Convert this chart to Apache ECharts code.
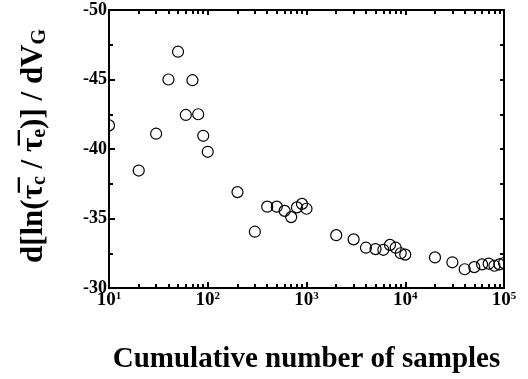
<!DOCTYPE html>
<html>
<head>
<meta charset="utf-8">
<script src="https://cdn.jsdelivr.net/npm/echarts@6/dist/echarts.min.js"></script>
<style>
  html, body { margin: 0; padding: 0; background: #fff; }
  #chart { width: 528px; height: 379px; }
</style>
</head>
<body>
<div id="chart"></div>
<script>
const samples = [10, 20, 30, 40, 50, 60, 70, 80, 90, 100,
  200, 300, 400, 500, 600, 700, 800, 900, 1000,
  2000, 3000, 4000, 5000, 6000, 7000, 8000, 9000, 10000,
  20000, 30000, 40000, 50000, 60000, 70000, 80000, 90000, 100000];
const slope = [-41.7, -38.45, -41.1, -45.0, -47.0, -42.45, -44.95, -42.5, -40.95, -39.8,
  -36.9, -34.05, -35.85, -35.85, -35.55, -35.1, -35.8, -36.05, -35.7,
  -33.8, -33.5, -32.9, -32.8, -32.75, -33.1, -32.9, -32.5, -32.4,
  -32.2, -31.85, -31.35, -31.5, -31.7, -31.75, -31.6, -31.7, -31.8];
const majorTicks = [10, 100, 1000, 10000, 100000];
const minorTicks = [];
[10, 100, 1000, 10000].forEach(d => {
  for (let k = 2; k <= 9; k++) minorTicks.push(d * k);
});

const serif = '"Liberation Serif", "Times New Roman", serif';
const chart = echarts.init(document.getElementById('chart'));

const xBase = {
  type: 'log', logBase: 10, min: 10, max: 100000, z: 10,
  splitLine: { show: false },
  axisLine: { show: true, lineStyle: { color: '#000', width: 2 } }
};
const tickLine = { color: '#000', width: 2 };

const option = {
  animation: false,
  backgroundColor: '#fff',
  grid: { left: 109, right: 24, top: 10, bottom: 80, containLabel: false },
  xAxis: [
    Object.assign({}, xBase, {
      position: 'bottom',
      name: 'Cumulative number of samples',
      nameLocation: 'middle',
      nameGap: 57,
      nameTextStyle: { fontFamily: serif, fontWeight: 'bold', fontSize: 29, color: '#000' },
      axisTick: { show: true, inside: true, length: 6, customValues: majorTicks, lineStyle: tickLine },
      axisLabel: {
        customValues: majorTicks,
        margin: 3,
        formatter: v => '{b|10}{s|' + Math.round(Math.log10(v)) + '}',
        rich: {
          b: { fontFamily: serif, fontWeight: 'bold', fontSize: 19, color: '#000', lineHeight: 18 },
          s: { fontFamily: serif, fontWeight: 'bold', fontSize: 11, color: '#000', lineHeight: 11, verticalAlign: 'top', padding: [0, 0, 5, 0] }
        }
      }
    }),
    Object.assign({}, xBase, {
      position: 'bottom',
      axisTick: { show: true, inside: true, length: 4, customValues: minorTicks, lineStyle: tickLine },
      axisLabel: { show: false }
    }),
    Object.assign({}, xBase, {
      position: 'top',
      axisTick: { show: true, inside: true, length: 5, customValues: majorTicks, lineStyle: tickLine },
      axisLabel: { show: false }
    }),
    Object.assign({}, xBase, {
      position: 'top',
      axisTick: { show: true, inside: true, length: 4, customValues: minorTicks, lineStyle: tickLine },
      axisLabel: { show: false }
    })
  ],
  yAxis: [
    {
      type: 'value', position: 'left', inverse: true,
      min: -50, max: -30, interval: 5, z: 10,
      splitLine: { show: false },
      axisLine: { show: true, lineStyle: { color: '#000', width: 2 } },
      axisTick: { show: true, inside: true, length: 6, lineStyle: tickLine },
      minorTick: { show: true, splitNumber: 2, length: 4, lineStyle: tickLine },
      axisLabel: { margin: 2, fontFamily: serif, fontWeight: 'bold', fontSize: 18, color: '#000' }
    },
    {
      type: 'value', position: 'right', inverse: true,
      min: -50, max: -30, interval: 2.5, z: 10,
      splitLine: { show: false },
      axisLine: { show: true, lineStyle: { color: '#000', width: 2 } },
      axisTick: { show: true, inside: true, length: 4, lineStyle: tickLine },
      axisLabel: { show: false }
    }
  ],
  graphic: [
    // white masks so edge circles are cut at the frame like the original
    { type: 'rect', z: 5, shape: { x: 0, y: 0, width: 109, height: 379 }, style: { fill: '#fff' } },
    { type: 'rect', z: 5, shape: { x: 504, y: 0, width: 24, height: 379 }, style: { fill: '#fff' } },
    {
      type: 'text', z: 20, x: 34, y: 146, rotation: Math.PI / 2,
      style: {
        text: '{m|d[ln(}{m|\u03c4\u0305}{s|c}{m| / }{m|\u03c4\u0305}{s|e}{m|)] / dV}{s|G}',
        align: 'center', verticalAlign: 'middle',
        rich: {
          m: { fontFamily: serif, fontWeight: 'bold', fontSize: 31, fill: '#000', lineHeight: 31 },
          s: { fontFamily: serif, fontWeight: 'bold', fontSize: 20, fill: '#000', lineHeight: 14, verticalAlign: 'bottom' }
        }
      }
    }
  ],
  series: [{
    type: 'scatter',
    xAxisIndex: 0, yAxisIndex: 0,
    clip: false,
    symbol: 'circle',
    symbolSize: 11,
    itemStyle: { color: 'rgba(0,0,0,0)', borderColor: '#000', borderWidth: 1.2, opacity: 1 },
    data: samples.map((s, i) => [s, slope[i]])
  }]
};
chart.setOption(option);
</script>
</body>
</html>
